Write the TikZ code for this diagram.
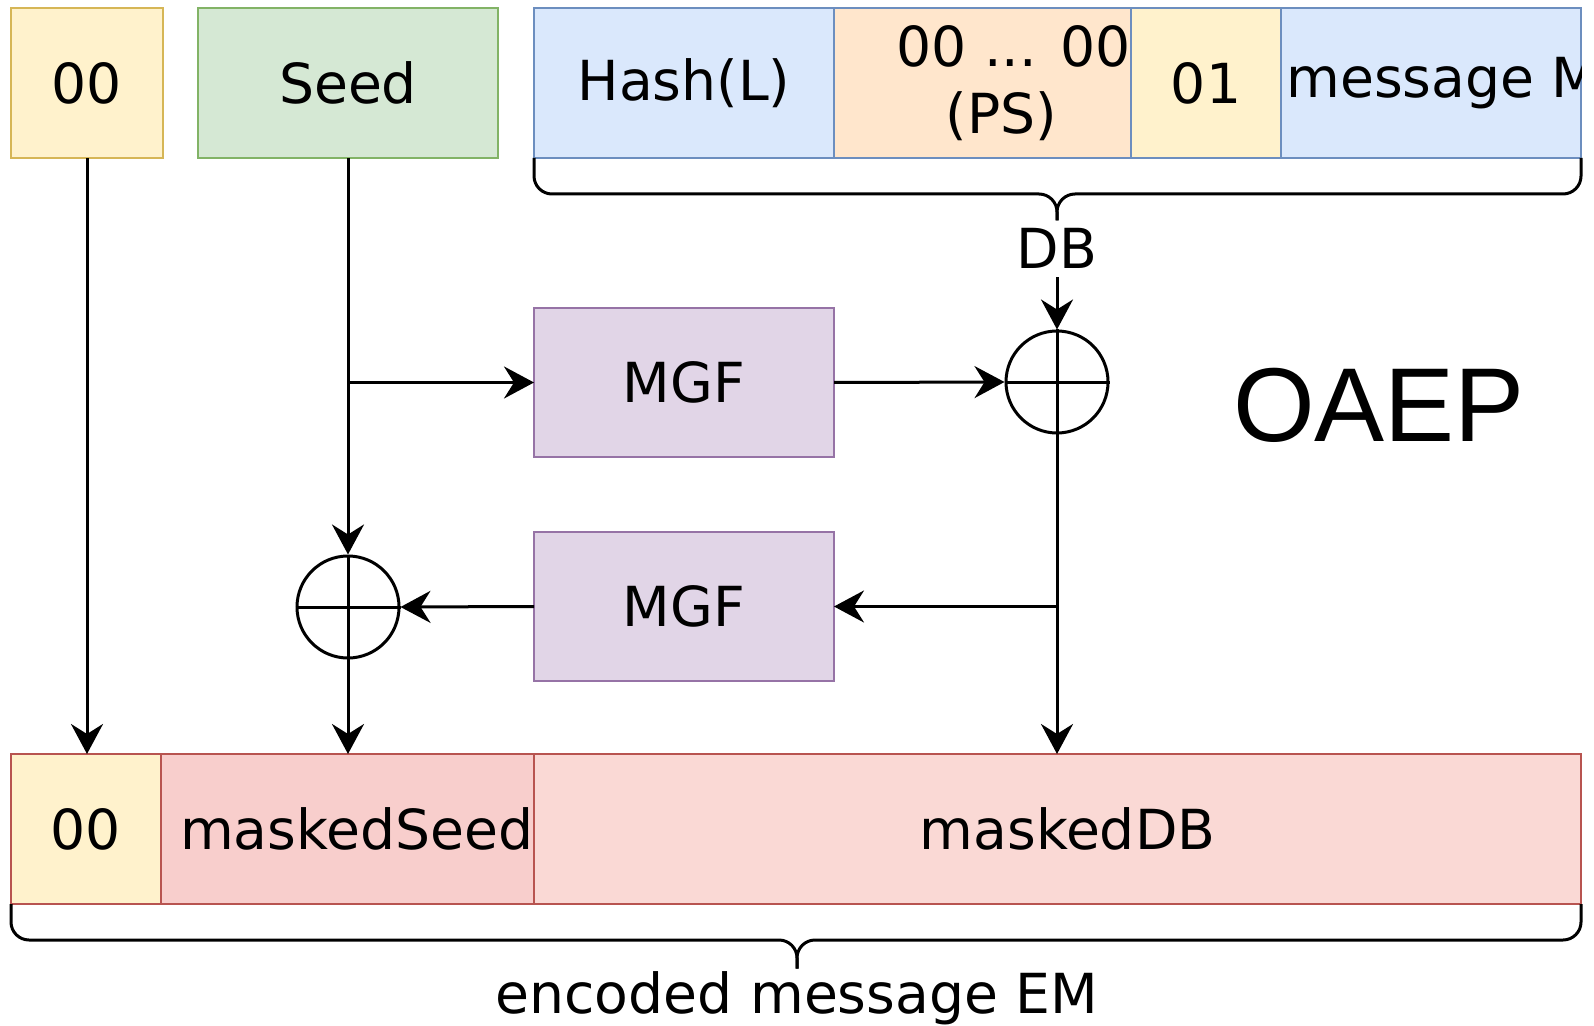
\documentclass[tikz,border=0pt]{standalone}
\usepackage{fontspec}
\setmainfont{DejaVu Sans}
\newfontfamily\oaepfont{Liberation Sans}
\usetikzlibrary{arrows.meta,positioning}
\definecolor{yelfill}{HTML}{FFF2CC}
\definecolor{yeldraw}{HTML}{D6B656}
\definecolor{grnfill}{HTML}{D5E8D4}
\definecolor{grndraw}{HTML}{82B366}
\definecolor{blufill}{HTML}{DAE8FC}
\definecolor{bludraw}{HTML}{6C8EBF}
\definecolor{orafill}{HTML}{FFE6CC}
\definecolor{purfill}{HTML}{E1D5E7}
\definecolor{purdraw}{HTML}{9673A6}
\definecolor{redfill}{HTML}{F8CECC}
\definecolor{reddraw}{HTML}{B85450}
\definecolor{pinkfill}{HTML}{FAD9D5}
\begin{document}
\begin{tikzpicture}[x=0.5pt,y=-0.5pt,
    every node/.style={font=\fontsize{27.6}{33.5}\selectfont},
    cell/.style={draw,line width=1.2pt,inner sep=0pt,outer sep=0pt,minimum height=75pt},
    xorc/.style={draw,circle,line width=1.5pt,inner sep=0pt,minimum size=51pt},
    arr/.style={line width=1.5pt,-{Stealth[length=15pt,width=16pt,inset=5pt]}},
    brc/.style={line width=1.5pt,rounded corners=9pt}]
    \useasboundingbox (0,0) rectangle (1594,1026);
    \node[cell,fill=yelfill,draw=yeldraw,minimum width=76pt] (top00) at (87,83) {00};
    \node[cell,fill=grnfill,draw=grndraw,minimum width=150pt] (seed) at (348,83) {Seed};
    \node[cell,fill=blufill,draw=bludraw,minimum width=150pt] (hash) at (684,83) {Hash(L)};
    \node[cell,fill=orafill,draw=bludraw,minimum width=148.5pt,right=0pt of hash,align=center] (ps) {\hspace*{31pt}00 ... 00\\\hspace*{19pt}(PS)};
    \node[cell,fill=yelfill,draw=bludraw,minimum width=75pt,right=0pt of ps] (one) {01};
    \node[cell,fill=blufill,draw=bludraw,minimum width=150pt,right=0pt of one] (msg) {};
    \begin{scope}
        \clip (msg.south west) rectangle (msg.north east);
        \node[anchor=west,inner sep=0pt,xshift=2.5pt] (msgtext) at (msg.west) {message M};
    \end{scope}
    \node[inner sep=4pt,anchor=base] (db) at (1057,269) {DB};
    \draw[brc] (hash.south west) -- ++(0,36) -| (db.north);
    \draw[brc] (msg.south east) -- ++(0,36) -| (db.north);
    \node[cell,fill=purfill,draw=purdraw,minimum width=150pt,minimum height=74.5pt] (mgf1) at (684,382.5) {MGF};
    \node[cell,fill=purfill,draw=purdraw,minimum width=150pt,minimum height=74.5pt] (mgf2) at (684,606.5) {MGF};
    \node[xorc] (xor1) at (1057,382) {};
    \node[xorc] (xor2) at (348,607) {};
    \draw[line width=1.5pt] (xor1.north) -- (xor1.south) (xor1.west) -- (xor1.east);
    \draw[line width=1.5pt] (xor2.north) -- (xor2.south) (xor2.west) -- (xor2.east);
    \node (title) at (1379,405) {\oaepfont\fontsize{52.5}{60}\selectfont OAEP};
    \node[cell,fill=yelfill,draw=reddraw,minimum width=75pt] (bot00) at (86,829) {00};
    \node[cell,fill=redfill,draw=reddraw,minimum width=186.5pt,text width=186pt,align=right,right=0pt of bot00] (mseed) {maskedSeed};
    \node[cell,fill=pinkfill,draw=reddraw,minimum width=523.5pt,right=0pt of mseed] (mdb) {\hspace*{10pt}maskedDB};
    \node[inner sep=1pt,anchor=base] (em) at (797,1013) {encoded message EM};
    \draw[brc] (bot00.south west) -- ++(0,36) -| (em.north);
    \draw[brc] (mdb.south east) -- ++(0,36) -| (em.north);
    \coordinate (s1) at (seed.south |- mgf1.west);
    \coordinate (s2) at (xor1.south |- mgf2.east);
    \draw[arr] (top00.south) -- (top00.south |- bot00.north);
    \draw[arr] (seed.south) -- (xor2.north);
    \draw[arr] (s1) -- (mgf1.west);
    \draw[arr] (mgf1.east) -- (xor1.west);
    \draw[arr] (db.south) -- (xor1.north);
    \draw[arr] (xor1.south) -- (xor1.south |- mdb.north);
    \draw[arr] (s2) -- (mgf2.east);
    \draw[arr] (mgf2.west) -- (xor2.east);
    \draw[arr] (xor2.south) -- (xor2.south |- mseed.north);
\end{tikzpicture}
\end{document}
